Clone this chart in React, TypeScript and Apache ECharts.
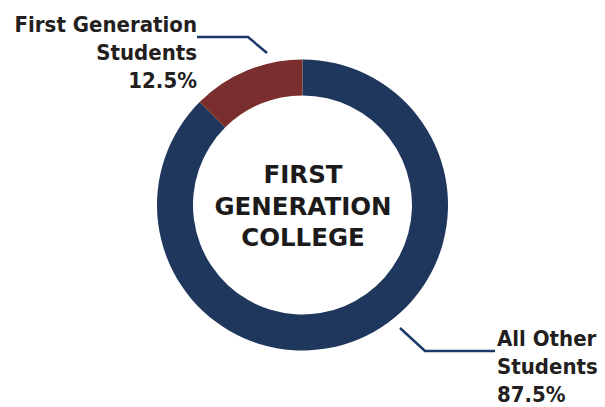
import React, { useEffect, useRef } from "react";
import * as echarts from "echarts";

const categories = ["All Other\nStudents", "First Generation\nStudents"];
const values = [87.5, 12.5];
const colors = ["#1f365d", "#7a2e2d"];
const centerTitle = ["FIRST", "GENERATION", "COLLEGE"];

export default function App() {
  const ref = useRef<HTMLDivElement>(null);
  useEffect(() => {
    document.body.style.margin = "0";
    const chart = echarts.init(ref.current!, null, { renderer: "svg" });
    const labelFont = {
      fontFamily: "'DejaVu Sans Condensed', 'DejaVu Sans', sans-serif",
      fontWeight: "bold" as const,
      fontSize: 22,
      lineHeight: 28,
      color: "#231f20",
    };
    chart.setOption({
      animation: false,
      backgroundColor: "#ffffff",
      graphic: [
        {
          type: "text",
          x: 303,
          y: 206,
          style: {
            text: centerTitle.join("\n"),
            fontFamily: "'DejaVu Sans', sans-serif",
            fontWeight: "bold",
            fontSize: 24.5,
            lineHeight: 31.5,
            fill: "#1c1a1b",
            align: "center",
            verticalAlign: "middle",
          },
        },
      ],
      series: [
        {
          type: "pie",
          center: [302.5, 205],
          radius: [109.5, 145.5],
          startAngle: 90,
          clockwise: true,
          avoidLabelOverlap: false,
          silent: true,
          data: categories.map((c, i) => ({
            name: c,
            value: values[i],
            itemStyle: { color: colors[i] },
          })),
          label: {
            show: true,
            position: "outside",
            formatter: (p: any) => `${p.name}\n${p.value}%`,
            ...labelFont,
          },
          labelLine: {
            show: true,
            lineStyle: { color: "#1b3a68", width: 2.5 },
          },
          labelLayout: (params: any) => {
            if (params.dataIndex === 1) {
              return {
                x: 197,
                y: 10,
                align: "right",
                verticalAlign: "top",
                labelLinePoints: [
                  [267, 53],
                  [248, 37],
                  [197, 37],
                ],
              };
            }
            return {
              x: 497,
              y: 324,
              align: "left",
              verticalAlign: "top",
              labelLinePoints: [
                [400, 328],
                [425, 351],
                [495, 351],
              ],
            };
          },
        },
      ],
    });
    return () => chart.dispose();
  }, []);
  return <div ref={ref} style={{ width: 605, height: 407 }} />;
}
